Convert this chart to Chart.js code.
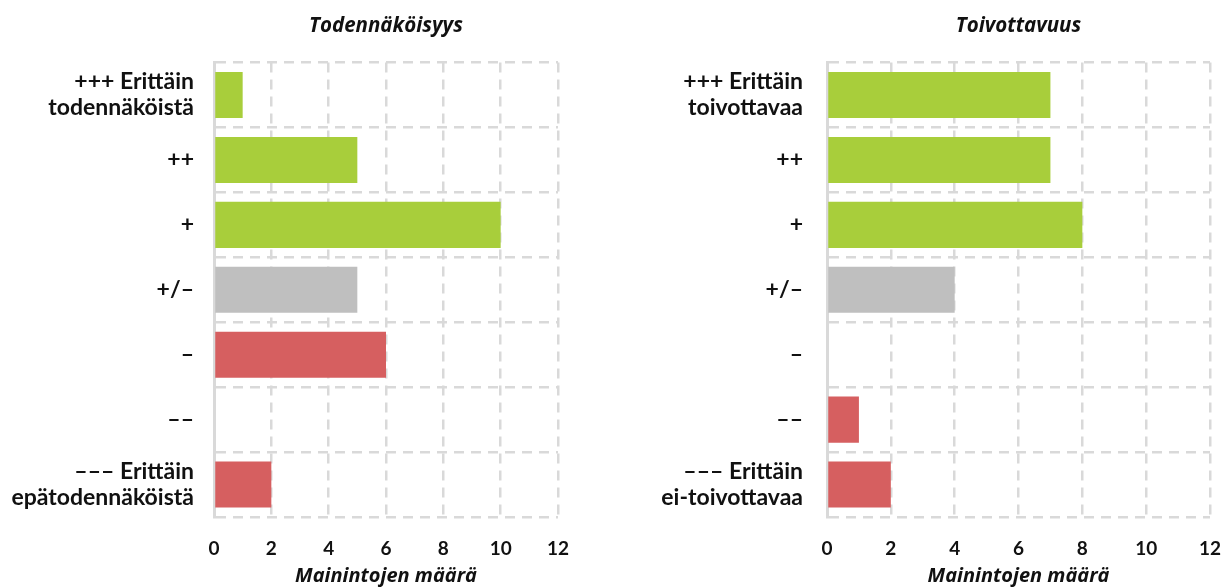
<!DOCTYPE html>
<html>
<head>
<meta charset="utf-8">
<script src="https://cdn.jsdelivr.net/npm/chart.js@4/dist/chart.umd.min.js"></script>
<style>
    body { margin: 0; background: #fff; width: 1227px; height: 587px; overflow: hidden; position: relative; }
    .panel { position: absolute; top: 0; height: 587px; }
</style>
</head>
<body>
<div class="panel" style="left:0;width:600px"><canvas id="likelihoodChart"></canvas></div>
<div class="panel" style="left:612px;width:615px"><canvas id="desirabilityChart"></canvas></div>
<script>
const likelihoodLabels = [
    ['+++ Erittäin', 'todennäköistä'], '++', '+', '+/–', '–', '––', ['––– Erittäin', 'epätodennäköistä']
];
const desirabilityLabels = [
    ['+++ Erittäin', 'toivottavaa'], '++', '+', '+/–', '–', '––', ['––– Erittäin', 'ei-toivottavaa']
];
const likelihoodValues = [1, 5, 10, 5, 6, 0, 2];
const desirabilityValues = [7, 7, 8, 4, 0, 1, 2];
const barColors = ['#a8ce3b', '#a8ce3b', '#a8ce3b', '#bfbfbf', '#d65f60', '#d65f60', '#d65f60'];
const xMax = 12;
const xStep = 2;
const axisTitle = 'Mainintojen määrä';

const gridColor = '#d9d9d9';
const textColor = '#111';
const labelFont = { family: 'Lato, "Open Sans", sans-serif', size: 23, weight: 'bold', lineHeight: 1.13 };
const numberFont = { family: 'Lato, "Open Sans", sans-serif', size: 19, weight: 'bold' };
const titleFont = { family: '"Open Sans", sans-serif', size: 20.5, weight: 'bold', style: 'italic', lineHeight: 1.2 };

function makeChart(id, title, labels, values, axisWidth, labelPad, rightPad) {
    const ctx = document.getElementById(id).getContext('2d');
    return new Chart(ctx, {
        type: 'bar',
        data: {
            labels: labels,
            datasets: [{
                data: values,
                backgroundColor: barColors,
                borderWidth: 0,
                barPercentage: 0.71,
                categoryPercentage: 1
            }]
        },
        options: {
            indexAxis: 'y',
            responsive: true,
            maintainAspectRatio: false,
            animation: false,
            layout: { padding: { top: 0, right: rightPad, left: 0, bottom: 0 } },
            plugins: {
                legend: { display: false },
                tooltip: { enabled: false },
                title: {
                    display: true,
                    text: title,
                    fullSize: false,
                    color: textColor,
                    font: titleFont,
                    padding: { top: 14, bottom: 24 }
                }
            },
            scales: {
                x: {
                    min: 0,
                    max: xMax,
                    ticks: { stepSize: xStep, color: textColor, font: numberFont, padding: 20 },
                    grid: { color: gridColor, lineWidth: 2.5, drawTicks: false },
                    border: { display: false, dash: [10, 7] },
                    title: { display: true, text: axisTitle, color: textColor, font: { ...titleFont, size: 20 }, padding: { top: 0, bottom: -1 } },
                    afterFit: scale => {
                        scale.height = 70;
                        scale.paddingLeft = 0;
                        scale.paddingRight = 0;
                    }
                },
                y: {
                    ticks: { color: textColor, font: labelFont, padding: labelPad },
                    grid: { color: gridColor, lineWidth: 2.5, drawTicks: false, offset: true },
                    border: { display: true, color: gridColor, width: 3, dash: [10, 7] },
                    afterFit: scale => { scale.width = axisWidth; }
                }
            }
        }
    });
}

makeChart('likelihoodChart', 'Todennäköisyys', likelihoodLabels, likelihoodValues, 214, 20, 42);
makeChart('desirabilityChart', 'Toivottavuus', desirabilityLabels, desirabilityValues, 215, 24, 17);
</script>
</body>
</html>
